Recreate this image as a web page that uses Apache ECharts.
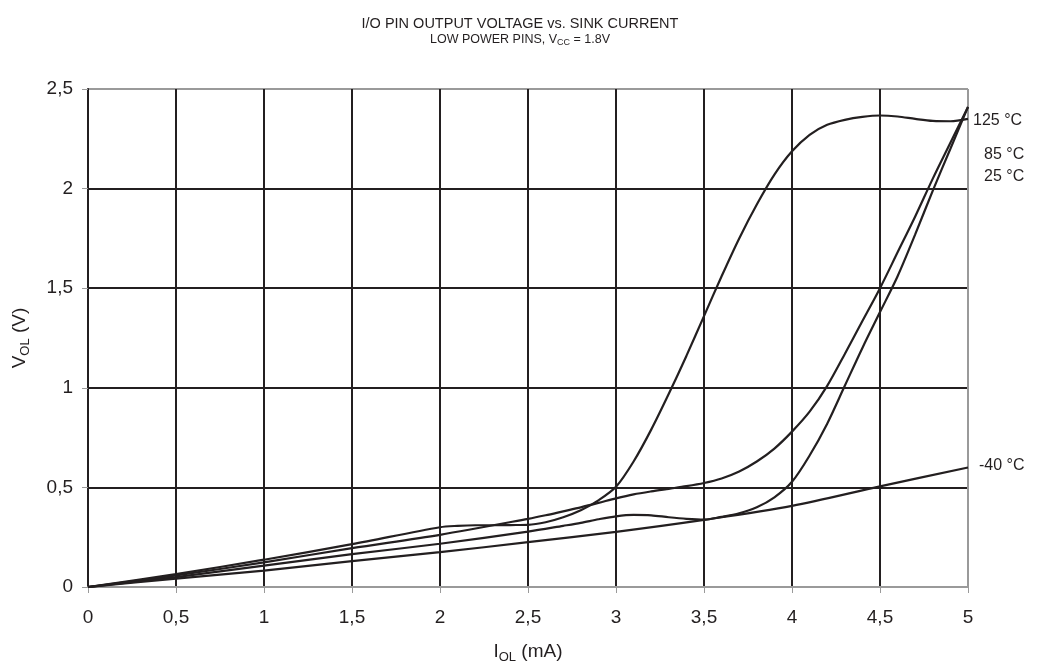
<!DOCTYPE html>
<html>
<head>
<meta charset="utf-8">
<script src="https://cdn.jsdelivr.net/npm/echarts@6/dist/echarts.min.js"></script>
<style>
html,body{margin:0;padding:0;background:#fff;}
#chart{width:1040px;height:669px;}
</style>
</head>
<body>
<div id="chart"></div>
<script>
// ---- data (I_OL in mA, V_OL in V) ----
const xTicks = [0, 0.5, 1, 1.5, 2, 2.5, 3, 3.5, 4, 4.5, 5];
const yTicks = [0, 0.5, 1, 1.5, 2, 2.5];

const seriesNames = ['125 °C', '85 °C', '25 °C', '-40 °C'];

const x125 = [0, 0.5, 1, 1.5, 2, 2.1, 2.2, 2.3, 2.4, 2.5, 2.6, 2.7, 2.8, 2.9, 3.0, 3.1, 3.2, 3.3, 3.4, 3.5, 3.6, 3.7, 3.8, 3.9, 4.0, 4.1, 4.2, 4.3, 4.4, 4.5, 4.6, 4.7, 4.8, 4.9, 5.0];
const y125 = [0, 0.065, 0.137, 0.215, 0.30, 0.307, 0.31, 0.31, 0.311, 0.312, 0.325, 0.35, 0.385, 0.435, 0.503, 0.63, 0.79, 0.97, 1.16, 1.36, 1.56, 1.75, 1.92, 2.07, 2.187, 2.27, 2.32, 2.345, 2.36, 2.367, 2.362, 2.35, 2.34, 2.338, 2.35];

const x85 = [0, 0.5, 1, 1.5, 2, 2.5, 2.6, 2.7, 2.8, 2.9, 3.0, 3.1, 3.2, 3.3, 3.4, 3.5, 3.6, 3.7, 3.8, 3.9, 4.0, 4.1, 4.2, 4.3, 4.4, 4.5, 4.6, 4.7, 4.8, 4.9, 5.0];
const y85 = [0, 0.058, 0.124, 0.195, 0.262, 0.342, 0.36, 0.38, 0.40, 0.422, 0.445, 0.465, 0.48, 0.493, 0.506, 0.522, 0.545, 0.58, 0.63, 0.695, 0.78, 0.88, 1.01, 1.17, 1.335, 1.5, 1.68, 1.86, 2.05, 2.23, 2.41];

const x25 = [0, 0.5, 1, 1.5, 2, 2.5, 2.7, 2.8, 2.9, 3.0, 3.1, 3.2, 3.3, 3.4, 3.5, 3.6, 3.7, 3.8, 3.9, 4.0, 4.1, 4.2, 4.3, 4.4, 4.5, 4.6, 4.7, 4.8, 4.9, 5.0];
const y25 = [0, 0.05, 0.107, 0.165, 0.217, 0.278, 0.307, 0.322, 0.34, 0.355, 0.362, 0.36, 0.35, 0.342, 0.338, 0.352, 0.37, 0.40, 0.45, 0.528, 0.66, 0.82, 1.01, 1.2, 1.38, 1.56, 1.77, 1.99, 2.2, 2.41];

const xm40 = [0, 0.5, 1, 1.5, 2, 2.5, 3, 3.5, 4, 4.5, 5];
const ym40 = [0, 0.042, 0.082, 0.13, 0.175, 0.225, 0.277, 0.337, 0.407, 0.505, 0.6];

const seriesX = [x125, x85, x25, xm40];
const seriesY = [y125, y85, y25, ym40];

// ---- chart ----
const chart = echarts.init(document.getElementById('chart'), null, {renderer: 'canvas'});
const lineColor = '#231f20';
const grey = '#9a9a9a';
const font = 'Liberation Sans, Arial, sans-serif';
const comma = v => String(v).replace('.', ',');

const series = seriesNames.map((name, i) => ({
  name: name,
  type: 'line',
  data: seriesX[i].map((x, j) => [x, seriesY[i][j]]),
  smooth: 0.3,
  showSymbol: false,
  symbol: 'none',
  lineStyle: {color: lineColor, width: 2.2},
  z: 5
}));

chart.setOption({
  animation: false,
  backgroundColor: '#fff',
  title: {
    left: 'center',
    top: 11,
    text: 'I/O PIN OUTPUT VOLTAGE vs. SINK CURRENT',
    textStyle: {fontFamily: font, fontSize: 14.5, fontWeight: 'normal', color: '#231f20', lineHeight: 16},
    subtext: '{a|LOW POWER PINS, V}{s|CC}{a| = 1.8V}',
    itemGap: 0,
    subtextStyle: {
      rich: {
        a: {fontFamily: font, fontSize: 12.5, color: '#231f20', lineHeight: 15, verticalAlign: 'middle'},
        s: {fontFamily: font, fontSize: 9, color: '#231f20', lineHeight: 15, verticalAlign: 'bottom'}
      }
    }
  },
  grid: {left: 88, right: 72, top: 89, bottom: 80, containLabel: false},
  xAxis: {
    type: 'value',
    min: 0, max: 5, interval: 0.5,
    name: '{a|I}{s|OL}{a| (mA)}',
    nameLocation: 'middle',
    nameGap: 53,
    nameTextStyle: {
      rich: {
        a: {fontFamily: font, fontSize: 19, color: '#231f20', lineHeight: 24, verticalAlign: 'middle'},
        s: {fontFamily: font, fontSize: 13, color: '#231f20', lineHeight: 24, verticalAlign: 'bottom'}
      }
    },
    axisLine: {show: true, lineStyle: {color: grey, width: 2}},
    axisTick: {show: true, inside: false, length: 6, lineStyle: {color: grey, width: 1}},
    axisLabel: {
      margin: 21, fontFamily: font, fontSize: 19, color: '#231f20',
      formatter: v => xTicks.includes(v) ? comma(v) : ''
    },
    splitLine: {
      show: true,
      lineStyle: {color: ['#231f20','#231f20','#231f20','#231f20','#231f20','#231f20','#231f20','#231f20','#231f20','#231f20', grey], width: 2}
    }
  },
  yAxis: {
    type: 'value',
    min: 0, max: 2.5, interval: 0.5,
    name: '{a|V}{s|OL}{a| (V)}',
    nameLocation: 'middle',
    nameRotate: 90,
    nameGap: 56,
    nameTextStyle: {
      rich: {
        a: {fontFamily: font, fontSize: 19, color: '#231f20', lineHeight: 24, verticalAlign: 'middle'},
        s: {fontFamily: font, fontSize: 13, color: '#231f20', lineHeight: 24, verticalAlign: 'bottom'}
      }
    },
    axisLine: {show: true, lineStyle: {color: '#231f20', width: 2}},
    axisTick: {show: true, inside: false, length: 6, lineStyle: {color: grey, width: 1}},
    axisLabel: {
      margin: 15, fontFamily: font, fontSize: 19, color: '#231f20',
      formatter: v => yTicks.includes(v) ? comma(v) : ''
    },
    splitLine: {
      show: true,
      lineStyle: {color: [grey, '#231f20', '#231f20', '#231f20', '#231f20', grey], width: 2}
    }
  },
  series: series
});

// curve labels at right, positioned from data coordinates
function labelAt(text, xv, yv, dx, dy) {
  const p = chart.convertToPixel({gridIndex: 0}, [xv, yv]);
  return {
    type: 'text',
    x: p[0] + dx, y: p[1] + dy,
    style: {text: text, fontFamily: font, fontSize: 16, fill: '#231f20', verticalAlign: 'middle'}
  };
}
chart.setOption({
  graphic: [
    labelAt(seriesNames[0], 5, 2.34, 5, 0),
    labelAt(seriesNames[1], 5, 2.17, 16, 0),
    labelAt(seriesNames[2], 5, 2.06, 16, 0),
    labelAt(seriesNames[3], 5, 0.61, 11, 0)
  ]
});
</script>
</body>
</html>
